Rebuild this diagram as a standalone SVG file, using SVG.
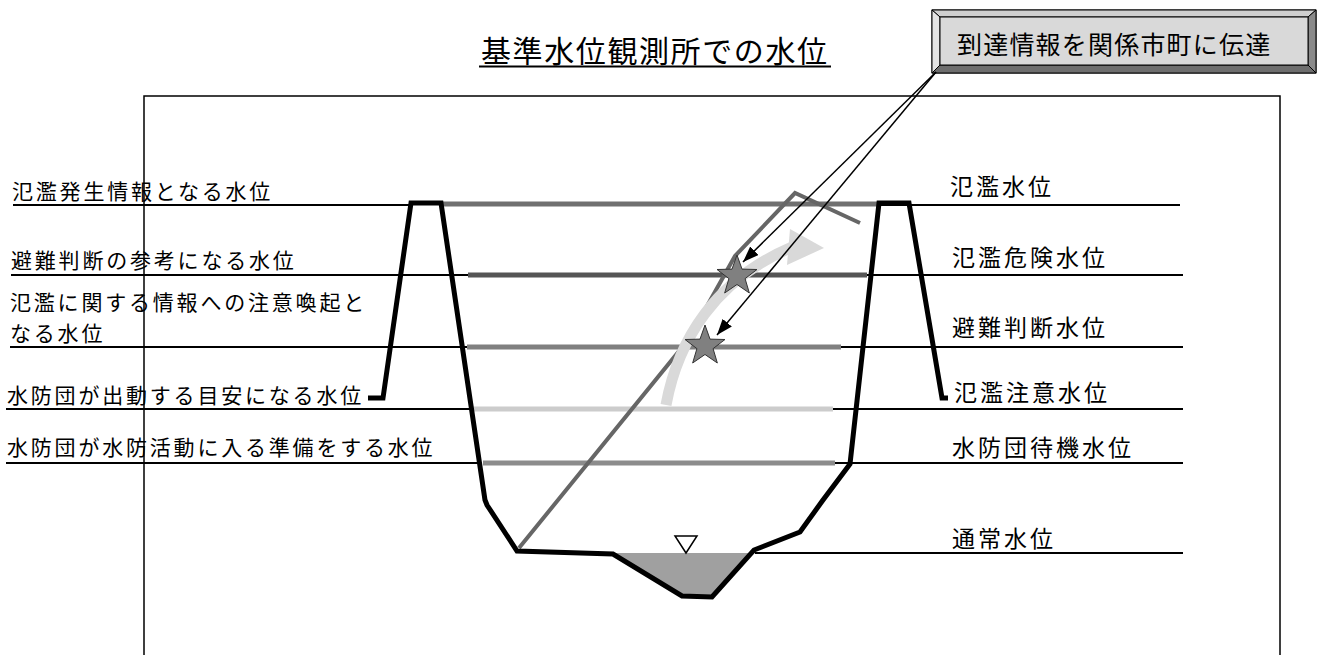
<svg xmlns="http://www.w3.org/2000/svg" width="1320" height="655" viewBox="0 0 1320 655">
<style>
text{font-family:"Noto Sans CJK JP","Noto Sans CJK SC",sans-serif;fill:#000}
.lbl{font-size:21px;letter-spacing:2.8px}
.rlbl{font-size:23px;letter-spacing:3px}
.thin{stroke:#000;stroke-width:2;fill:none}
.bar{stroke-width:5;fill:none}
</style>
<defs>
<marker id="ah" markerUnits="userSpaceOnUse" markerWidth="16" markerHeight="12" viewBox="0 0 16 12" refX="16" refY="6" orient="auto">
<path d="M0,0 L16,6 L0,12 z" fill="#000"/>
</marker>
<polygon id="star" points="0,-21 5,-6.88 19.97,-6.49 8.08,2.63 12.34,16.99 0,8.5 -12.34,16.99 -8.08,2.63 -19.97,-6.49 -5,-6.88" fill="#808080" stroke="#333" stroke-width="1"/>
</defs>
<rect width="1320" height="655" fill="#fff"/>
<g id="frame"><rect x="144" y="96" width="1136" height="620" fill="none" stroke="#000" stroke-width="1.5"/></g>
<g id="title">
<text x="481" y="62" style="font-size:30px;letter-spacing:1.6px">基準水位観測所での水位</text>
<line x1="479" y1="66.5" x2="831" y2="66.5" stroke="#000" stroke-width="2"/>
</g>
<g id="notice-box">
<rect x="932" y="10" width="384" height="63" fill="#d9d9d9" stroke="#000" stroke-width="1"/>
<polygon points="932,10 1316,10 1308,17 940,17" fill="#cfcfcf" stroke="#000" stroke-width="1"/>
<polygon points="932,10 940,17 940,65 932,73" fill="#e4e4e4" stroke="#000" stroke-width="1"/>
<polygon points="1316,10 1308,17 1308,65 1316,73" fill="#8a8a8a" stroke="#000" stroke-width="1"/>
<polygon points="932,73 940,65 1308,65 1316,73" fill="#6e6e6e" stroke="#000" stroke-width="1"/>
<rect x="940" y="17" width="368" height="48" fill="#d9d9d9" stroke="#000" stroke-width="1"/>
<text x="957" y="54" style="font-size:25px;letter-spacing:1.2px">到達情報を関係市町に伝達</text>
</g>
<g id="level-lines">
<line class="thin" x1="13" y1="205" x2="410" y2="205"/>
<line class="thin" x1="11" y1="275" x2="468" y2="275"/>
<line class="thin" x1="10" y1="347" x2="467" y2="347"/>
<line class="thin" x1="6" y1="409" x2="470" y2="409"/>
<line class="thin" x1="6" y1="463" x2="478" y2="463"/>
<line class="bar" stroke="#707070" x1="443" y1="204" x2="877" y2="204"/>
<line class="bar" stroke="#555555" x1="468" y1="275" x2="867" y2="275"/>
<line class="bar" stroke="#808080" x1="467" y1="347" x2="841" y2="347"/>
<line class="bar" stroke="#cccccc" x1="470" y1="409" x2="833" y2="409"/>
<line class="bar" stroke="#8c8c8c" x1="483" y1="463" x2="835" y2="463"/>
<line class="thin" x1="880" y1="205" x2="1180" y2="205"/>
<line class="thin" x1="867" y1="275" x2="1183" y2="275"/>
<line class="thin" x1="841" y1="347" x2="1183" y2="347"/>
<line class="thin" x1="833" y1="409" x2="1183" y2="409"/>
<line class="thin" x1="835" y1="463" x2="1183" y2="463"/>
<line class="thin" x1="755" y1="553" x2="1183" y2="553"/>
</g>
<g id="left-labels">
<text class="lbl" x="12" y="199">氾濫発生情報となる水位</text>
<text class="lbl" x="11" y="268">避難判断の参考になる水位</text>
<text class="lbl" x="10" y="310">氾濫に関する情報への注意喚起と</text>
<text class="lbl" x="10" y="341">なる水位</text>
<text class="lbl" x="7" y="403">水防団が出動する目安になる水位</text>
<text class="lbl" x="7" y="455">水防団が水防活動に入る準備をする水位</text>
</g>
<g id="right-labels">
<text class="rlbl" x="950" y="195">氾濫水位</text>
<text class="rlbl" x="952" y="266">氾濫危険水位</text>
<text class="rlbl" x="952" y="336">避難判断水位</text>
<text class="rlbl" x="954" y="401">氾濫注意水位</text>
<text class="rlbl" x="952" y="456">水防団待機水位</text>
<text class="rlbl" x="952" y="547">通常水位</text>
</g>
<g id="river">
<polygon points="614,553 752,553 712,597 682,596" fill="#a0a0a0"/>
<polygon points="675,536 697,536 686,553" fill="#fff" stroke="#000" stroke-width="1.5"/>
<polyline points="519,548 688,340 735,256 795,193 860,223" fill="none" stroke="#666" stroke-width="4"/>
<path d="M666,405 C678,340 715,280 792,247" fill="none" stroke="#d9d9d9" stroke-width="11"/>
<polygon points="790,229 824,248 787,265" fill="#d9d9d9"/>
<polyline points="368,398 383,398 411,203 441,203 485,500 487,505 517,551 613,554 682,596 712,597 754,550 800,532 823,500 850,464 879,203 909,203 942,398 948,398" fill="none" stroke="#000" stroke-width="5" stroke-linejoin="miter"/>
</g>
<g id="stars">
<use href="#star" transform="translate(737,276)"/>
<use href="#star" transform="translate(705,346)"/>
</g>
<g id="connectors">
<line x1="936" y1="72" x2="743" y2="262" stroke="#000" stroke-width="1.5" marker-end="url(#ah)"/>
<line x1="936" y1="72" x2="717" y2="335" stroke="#000" stroke-width="1.5" marker-end="url(#ah)"/>
</g>
</svg>
